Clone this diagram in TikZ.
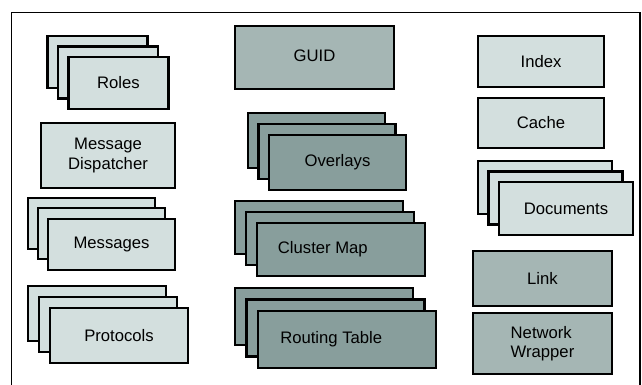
\documentclass[tikz,border=0pt]{standalone}
\usepackage{fontspec}
\setmainfont{Liberation Sans}
\usetikzlibrary{positioning, calc}

\definecolor{paleteal}{HTML}{D3DFDE}
\definecolor{midteal}{HTML}{A5B6B4}
\definecolor{darkteal}{HTML}{889E9C}

\begin{document}
\begin{tikzpicture}[
    x=0.75pt,
    y=-0.75pt,
    font=\fontsize{12.5}{14.5}\selectfont,
    component/.style={
        draw=black,
        line width=1.6pt,
        inner sep=0pt,
        outer sep=0pt,
        align=center
    },
    pale/.style={
        component,
        fill=paleteal
    },
    mid/.style={
        component,
        fill=midteal
    },
    dark/.style={
        component,
        fill=darkteal
    },
    size/.style n args={2}{
        minimum width=#1*0.75pt,
        minimum height=#2*0.75pt
    },
    caption/.style={
        inner sep=0pt
    }
]

\useasboundingbox (0,0) rectangle (642,385);

% --- OUTER FRAME ----------------------------------------------

\draw[line width=1.1pt] (11.5,385) -- (11.5,12.3) -- (640,12.3) -- (640,385);

% --- LEFT COLUMN ----------------------------------------------

\node[pale, size={100}{52}] (roles1) at (97.5,62) {};
\node[pale, size={100}{52}] (roles2) at ($(roles1)+(10.5,10.5)$) {};
\node[pale, size={100}{52}] (roles3) at ($(roles2)+(10.5,10.5)$) {Roles};

\node[pale, size={134}{65}] (dispatcher) at (108,155.5) {Message\\Dispatcher};

\node[pale, size={127}{51}] (msgs1) at (91.5,223.5) {};
\node[pale, size={127}{51}] (msgs2) at ($(msgs1)+(10,10.3)$) {};
\node[pale, size={127}{51}] (msgs3) at ($(msgs2)+(10,10.3)$) {Messages};

\node[pale, size={138}{55}] (protos1) at (97,313.5) {};
\node[pale, size={138}{55}] (protos2) at ($(protos1)+(11,11)$) {};
\node[pale, size={138}{55}] (protos3) at ($(protos2)+(11,11)$) {Protocols};

% --- MIDDLE COLUMN --------------------------------------------

\node[mid, size={159}{63}] (guid) at (314.5,57.5) {\raisebox{3pt}{GUID}};

\node[dark, size={137}{55}] (overlays1) at (316.5,140.5) {};
\node[dark, size={137}{55}] (overlays2) at ($(overlays1)+(10.5,10.8)$) {};
\node[dark, size={137}{55}] (overlays3) at ($(overlays2)+(10.5,10.8)$) {Overlays};

\node[dark, size={168}{53}] (cmap1) at (319,227.5) {};
\node[dark, size={168}{53}] (cmap2) at ($(cmap1)+(11,10.8)$) {};
\node[dark, size={168}{53}] (cmap3) at ($(cmap2)+(11,10.8)$) {};
\node[caption, right=15.5pt of cmap3.west] (cmaptext) {Cluster Map};

\node[dark, size={178}{57}] (rtable1) at (324,316.5) {};
\node[dark, size={178}{57}] (rtable2) at ($(rtable1)+(11.5,11.5)$) {};
\node[dark, size={178}{57}] (rtable3) at ($(rtable2)+(11.5,11.5)$) {};
\node[caption, right=16.5pt of rtable3.west] (rtabletext) {Routing Table};

% --- RIGHT COLUMN ---------------------------------------------

\node[pale, size={126}{51}] (index) at (541,61.5) {Index};
\node[pale, size={126}{50}] (cache) at (541,123) {Cache};

\node[pale, size={134}{53}] (docs1) at (545,187.5) {};
\node[pale, size={134}{53}] (docs2) at ($(docs1)+(10.5,10.5)$) {};
\node[pale, size={134}{53}] (docs3) at ($(docs2)+(10.5,10.5)$) {Documents};

\node[mid, size={139}{55}] (link) at (542.5,278.5) {Link};
\node[mid, size={139}{61}, align=left] (wrapper) at (542.5,343.5) {Network\\Wrapper};

\end{tikzpicture}
\end{document}
